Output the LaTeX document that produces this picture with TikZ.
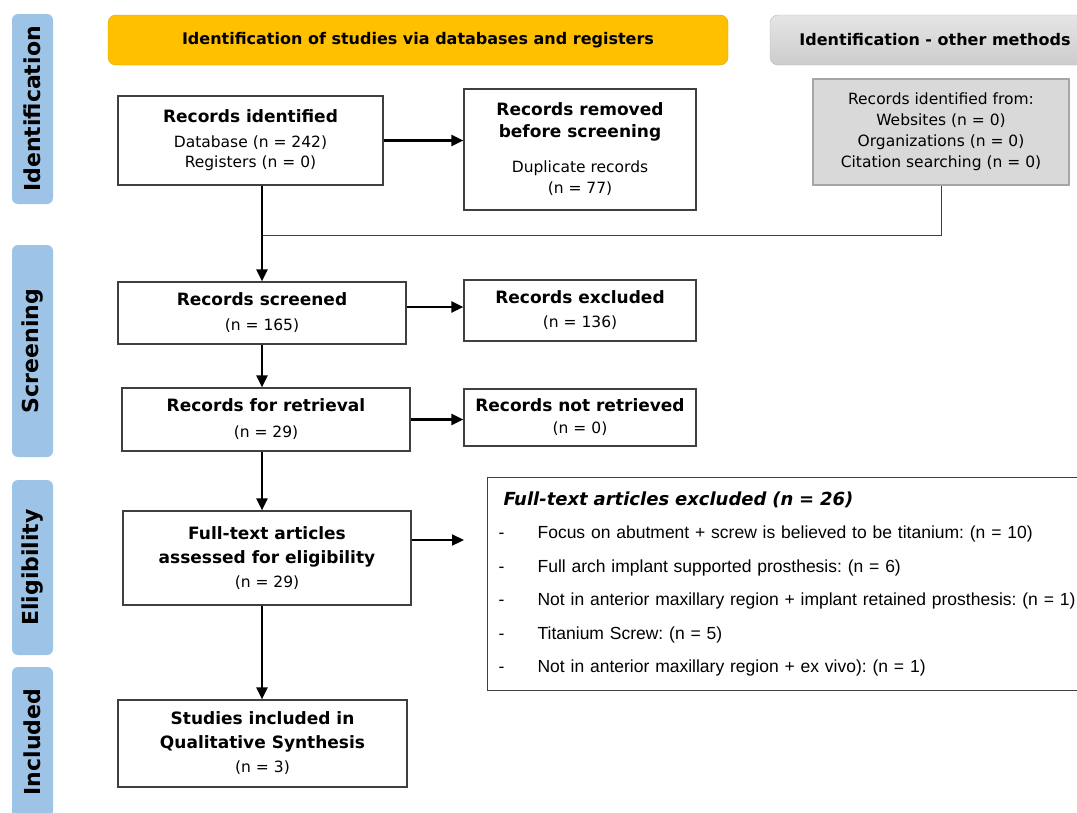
\documentclass[tikz,border=0pt]{standalone}
\usepackage{fontspec}
\setmainfont{DejaVu Sans}
\newfontfamily\arialfont{Liberation Sans}
\usetikzlibrary{arrows.meta,positioning,shapes}
\frenchspacing

\definecolor{phaseblue}{HTML}{9DC3E6}
\definecolor{headyellow}{HTML}{FFC000}
\definecolor{boxgray}{HTML}{D9D9D9}
\definecolor{edgegray}{HTML}{3F3F3F}

\newcommand{\boxtitle}[1]{{\fontsize{17}{24}\selectfont\bfseries #1}}

\begin{document}
\begin{tikzpicture}[x=1pt,y=-1pt,
  every node/.style={font=\fontsize{15.5}{24}\selectfont},
  phase/.style={rounded corners=6pt,fill=phaseblue,rotate=90,minimum height=41pt,
    inner sep=0pt,font=\fontsize{22}{22}\selectfont\bfseries},
  header/.style={rounded corners=8pt,minimum height=50pt,inner sep=0pt,
    font=\fontsize{16}{20}\selectfont\bfseries},
  flowbox/.style={draw=edgegray,line width=1.2pt,fill=white,align=center,inner sep=0pt},
  arrow/.style={-{Triangle[length=12pt,width=11pt]},line width=2.2pt}]

  \useasboundingbox (0,0) rectangle (1077,812);

  % phase labels on the left
  \node[phase,minimum width=190pt] (identlab) at (32.5,109) {Identification};
  \node[phase,minimum width=212pt] (screenlab) at (32.5,351) {Screening};
  \node[phase,minimum width=175pt] (eliglab) at (32.5,567.5) {Eligibility};
  \node[phase,minimum width=150pt] (incllab) at (32.5,742) {Included};

  % column headers
  \node[header,fill=headyellow,draw=headyellow!85!black,minimum width=620pt] (dbhead) at (418,40)
    {Identification of studies via databases and registers};
  \node[header,top color=gray!20,bottom color=gray!40,draw=gray!55,minimum width=330pt] (otherhead) at (935,40)
    {Identification - other methods};

  % identification
  \node[flowbox,minimum width=265pt,minimum height=89pt] (recid) at (250.5,140.5)
    {\boxtitle{Records identified}\\[1pt]Database (n = 242)\\[-4pt]Registers (n = 0)};
  \node[flowbox,minimum width=232pt,minimum height=121pt] (removed) at (580,149.5)
    {\boxtitle{Records removed}\\[-2pt]\boxtitle{before screening}\\[11pt]Duplicate records\\[-3pt](n = 77)};
  \node[flowbox,fill=boxgray,draw=gray!70,minimum width=256pt,minimum height=106pt,
    font=\fontsize{15.5}{21}\selectfont] (other) at (941,132)
    {Records identified from:\\Websites (n = 0)\\Organizations (n = 0)\\Citation searching (n = 0)};

  % screening
  \node[flowbox,minimum width=288pt,minimum height=62pt] (screened) at (262,313)
    {\boxtitle{Records screened}\\[1pt](n = 165)};
  \node[flowbox,minimum width=232pt,minimum height=61pt] (excluded) at (580,310.5)
    {\boxtitle{Records excluded}\\(n = 136)};
  \node[flowbox,minimum width=288pt,minimum height=63pt] (retrieval) at (266,419.5)
    {\boxtitle{Records for retrieval}\\[2pt](n = 29)};
  \node[flowbox,minimum width=232pt,minimum height=57pt] (notret) at (580,417.5)
    {\boxtitle{Records not retrieved}\\[-2pt](n = 0)};

  % eligibility
  \node[flowbox,minimum width=288pt,minimum height=94pt] (fulltext) at (267,558)
    {\boxtitle{Full-text articles}\\\boxtitle{assessed for eligibility}\\(n = 29)};
  \node[flowbox,anchor=north west,align=left,text width=600pt,inner xsep=11pt,inner ysep=14pt,
    font=\arialfont\fontsize{17.5}{33.5}\selectfont] (ftexcl) at (487,477)
    {{\normalfont\fontsize{18}{33.5}\selectfont\bfseries\itshape\hspace*{5pt}Full-text articles excluded (n = 26)}\\
     \makebox[39pt][l]{-}Focus on abutment + screw is believed to be titanium: (n = 10)\\
     \makebox[39pt][l]{-}Full arch implant supported prosthesis: (n = 6)\\
     \makebox[39pt][l]{-}Not in anterior maxillary region + implant retained prosthesis: (n = 1)\\
     \makebox[39pt][l]{-}Titanium Screw: (n = 5)\\
     \makebox[39pt][l]{-}Not in anterior maxillary region + ex vivo): (n = 1)};

  % included
  \node[flowbox,minimum width=289pt,minimum height=87pt] (included) at (262.5,743.5)
    {\boxtitle{Studies included in}\\\boxtitle{Qualitative Synthesis}\\(n = 3)};

  % connectors
  \coordinate (join) at (262,235);
  \draw[line width=1pt,draw=edgegray] (other.south) |- (join);
  \draw[arrow] (recid.east) -- (recid.east -| removed.west);
  \draw[arrow] (recid.south -| screened.north) -- (screened.north);
  \draw[arrow] ([yshift=6pt]screened.east) -- ([yshift=6pt]screened.east -| excluded.west);
  \draw[arrow] (screened.south) -- (screened.south |- retrieval.north);
  \draw[arrow] (retrieval.east) -- (retrieval.east -| notret.west);
  \draw[arrow] (retrieval.south -| screened.south) -- (fulltext.north -| screened.south);
  \draw[arrow,shorten >=23pt] ([yshift=18pt]fulltext.east) -- ([yshift=18pt]fulltext.east -| ftexcl.west);
  \draw[arrow] (fulltext.south -| screened.south) -- (included.north -| screened.south);
\end{tikzpicture}
\end{document}
